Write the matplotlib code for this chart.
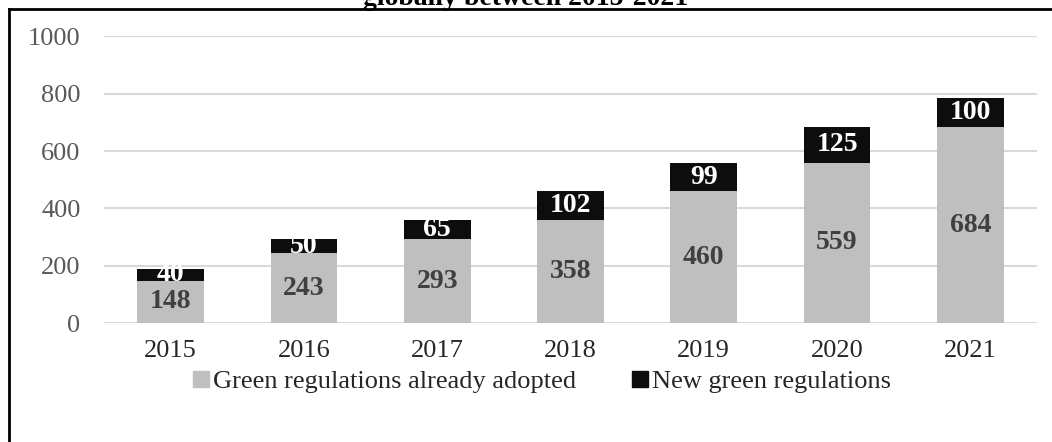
import matplotlib.pyplot as plt
from matplotlib.lines import Line2D

# data
years = ["2015", "2016", "2017", "2018", "2019", "2020", "2021"]
adopted = [148, 243, 293, 358, 460, 559, 684]
new_regs = [40, 50, 65, 102, 99, 125, 100]
yticks = [0, 200, 400, 600, 800, 1000]

GRAY = "#BFBFBF"
BLACK = "#0D0D0D"

plt.rcParams["font.family"] = ["Liberation Serif", "DejaVu Serif"]

fig = plt.figure(figsize=(10.52, 4.42), dpi=100)
ax = fig.add_axes([104 / 1052, 1 - 323 / 442, (1037 - 104) / 1052, (323 - 36.5) / 442])

x = list(range(len(years)))
ax.bar(x, adopted, width=0.5, color=GRAY, label="Green regulations already adopted", zorder=2)
ax.bar(x, new_regs, width=0.5, bottom=adopted, color=BLACK, label="New green regulations", zorder=2)

# value labels
for i in x:
    ax.text(i, adopted[i] / 2, str(adopted[i]), ha="center", va="center",
            fontsize=20, fontweight="bold", color="#404040", zorder=3)
    ax.text(i, adopted[i] + new_regs[i] / 2, str(new_regs[i]), ha="center", va="center",
            fontsize=20, fontweight="bold", color="white", zorder=3)

ax.set_xlim(-0.5, 6.5)
ax.set_ylim(0, 1000)
ax.set_yticks(yticks)
ax.set_xticks(x)
ax.set_xticklabels(years)
ax.tick_params(axis="both", length=0, labelsize=19)
ax.tick_params(axis="y", pad=17, labelcolor="#595959")
ax.tick_params(axis="x", pad=12, labelcolor="#262626")
ax.grid(axis="y", color="#D9D9D9", linewidth=1.5, zorder=0)
for s in ax.spines.values():
    s.set_visible(False)

handles = [Line2D([], [], marker="s", linestyle="", markersize=11, color=GRAY),
           Line2D([], [], marker="s", linestyle="", markersize=11, color=BLACK)]
fig.legend(handles, ["Green regulations already adopted", "New green regulations"],
           loc="center", bbox_to_anchor=(0.514, 1 - 381 / 442), ncol=2, frameon=False,
           fontsize=19, handletextpad=0.05, columnspacing=2.0, handlelength=0.8,
           labelcolor="#262626")

# title (cut off at the top)
fig.text(0.5, 1 - 5 / 442, "globally between 2015-2021", ha="center", va="baseline",
         fontsize=20, fontweight="bold", color="black")

# outer frame
fig.add_artist(Line2D([9.5 / 1052, 1], [1 - 8.5 / 442, 1 - 8.5 / 442], color="black", lw=2,
                      transform=fig.transFigure))
fig.add_artist(Line2D([9.5 / 1052, 9.5 / 1052], [0, 1 - 8.5 / 442], color="black", lw=2,
                      transform=fig.transFigure))

fig.savefig("out.png", dpi=100)
